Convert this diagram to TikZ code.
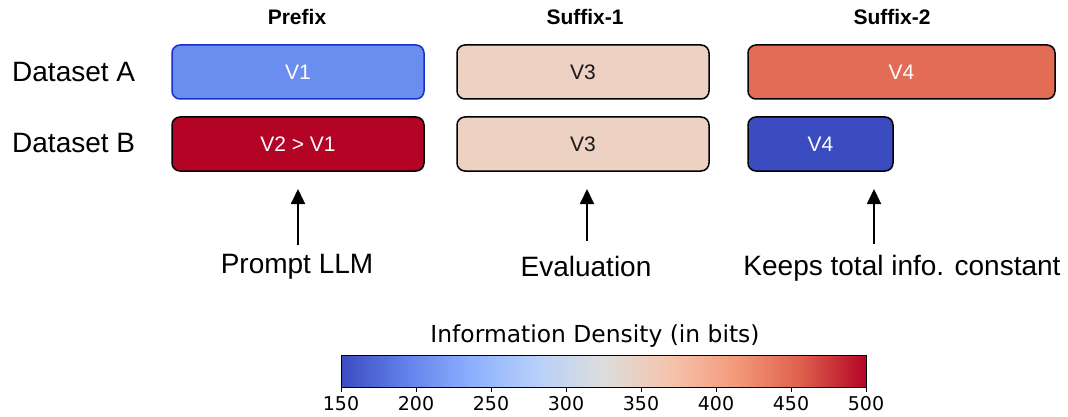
\documentclass[tikz,border=0pt]{standalone}
\usepackage{fontspec}
\setmainfont{Liberation Sans}
\newfontfamily\dejavu{DejaVu Sans}
\usetikzlibrary{arrows.meta}
\definecolor{lowblue}{RGB}{59,76,192}
\definecolor{midblue}{RGB}{106,141,240}
\definecolor{edgeblue}{RGB}{24,48,200}
\definecolor{peach}{RGB}{237,209,194}
\definecolor{salmon}{RGB}{227,108,85}
\definecolor{highred}{RGB}{180,4,38}
\pgfdeclarehorizontalshading{coolwarm}{100bp}{rgb(0bp)=(0.231,0.298,0.753); rgb(25bp)=(0.231,0.298,0.753); rgb(31.25bp)=(0.384,0.510,0.918); rgb(37.5bp)=(0.553,0.690,0.996); rgb(43.75bp)=(0.722,0.816,0.976); rgb(50bp)=(0.867,0.867,0.867); rgb(56.25bp)=(0.961,0.769,0.678); rgb(62.5bp)=(0.957,0.604,0.482); rgb(68.75bp)=(0.871,0.376,0.302); rgb(75bp)=(0.706,0.016,0.149); rgb(100bp)=(0.706,0.016,0.149)}

\begin{document}
\begin{tikzpicture}
[x=1pt,y=-1pt,
blk/.style={rectangle,rounded corners=8pt,draw=black,line width=1.5pt,minimum height=54pt,inner sep=0pt,text=white,font=\fontsize{21}{25}\selectfont},
head/.style={anchor=base,font=\fontsize{21}{25}\selectfont\bfseries},
row/.style={anchor=base west,inner sep=0pt,font=\fontsize{28}{34}\selectfont},
note/.style={anchor=base,inner sep=0pt,font=\fontsize{28}{34}\selectfont},
up/.style={-{Triangle[length=15pt,width=14pt]},line width=1.8pt},
tick/.style={anchor=base,inner sep=0pt,font=\dejavu\fontsize{19}{23}\selectfont}]
\useasboundingbox (0,0) rectangle (1068,417);
% column heads and row names
\node[head] at (297,25) (hpre) {Prefix};
\node[head] at (585,25) (hsuf1) {Suffix-1};
\node[head] at (892,25) (hsuf2) {Suffix-2};
\node[row] at (12,82) (dsa) {Dataset A};
\node[row] at (12,153) (dsb) {Dataset B};
% boxes
\node[blk,fill=midblue,draw=edgeblue,minimum width=252pt] at (298,72) (a1) {V1};
\node[blk,fill=peach,text=black!90,minimum width=252pt] at (583,72) (a2) {V3};
\node[blk,fill=salmon,minimum width=307pt] at (901.5,72) (a3) {V4};
\node[blk,fill=highred,minimum width=252pt] at (298,144) (b1) {V2 > V1};
\node[blk,fill=peach,text=black!90,minimum width=252pt] at (583,144) (b2) {V3};
\node[blk,fill=lowblue,minimum width=145pt] at (820.5,144) (b3) {V4};
% notes and arrows
\node[note] at (297,273) (prompt) {Prompt LLM};
\node[note] at (586,276) (eval) {Evaluation};
\node[note] at (902,275) (keeps) {Keeps total info. constant};
\coordinate (t1) at (298,189);
\coordinate (t2) at (587,189);
\coordinate (t3) at (874,189);
\draw[up] ([yshift=9pt]prompt.north -| t1) -- (t1);
\draw[up] ([yshift=15pt]eval.north -| t2) -- (t2);
\draw[up] ([yshift=11pt]keeps.north -| t3) -- (t3);
% colour bar
\node[anchor=base,inner sep=0pt,font=\dejavu\fontsize{23.4}{28}\selectfont] at (595,342) (cbtitle) {Information Density (in bits)};
\shade[shading=coolwarm] (341,355) rectangle (866,387);
\draw[line width=1pt] (341,355) rectangle (866,387);
\draw[line width=1pt] (341,387) -- (341,392) node[tick] at (341,410) {150};
\draw[line width=1pt] (416,387) -- (416,392) node[tick] at (416,410) {200};
\draw[line width=1pt] (491,387) -- (491,392) node[tick] at (491,410) {250};
\draw[line width=1pt] (566,387) -- (566,392) node[tick] at (566,410) {300};
\draw[line width=1pt] (641,387) -- (641,392) node[tick] at (641,410) {350};
\draw[line width=1pt] (716,387) -- (716,392) node[tick] at (716,410) {400};
\draw[line width=1pt] (791,387) -- (791,392) node[tick] at (791,410) {450};
\draw[line width=1pt] (866,387) -- (866,392) node[tick] at (866,410) {500};
\end{tikzpicture}
\end{document}
